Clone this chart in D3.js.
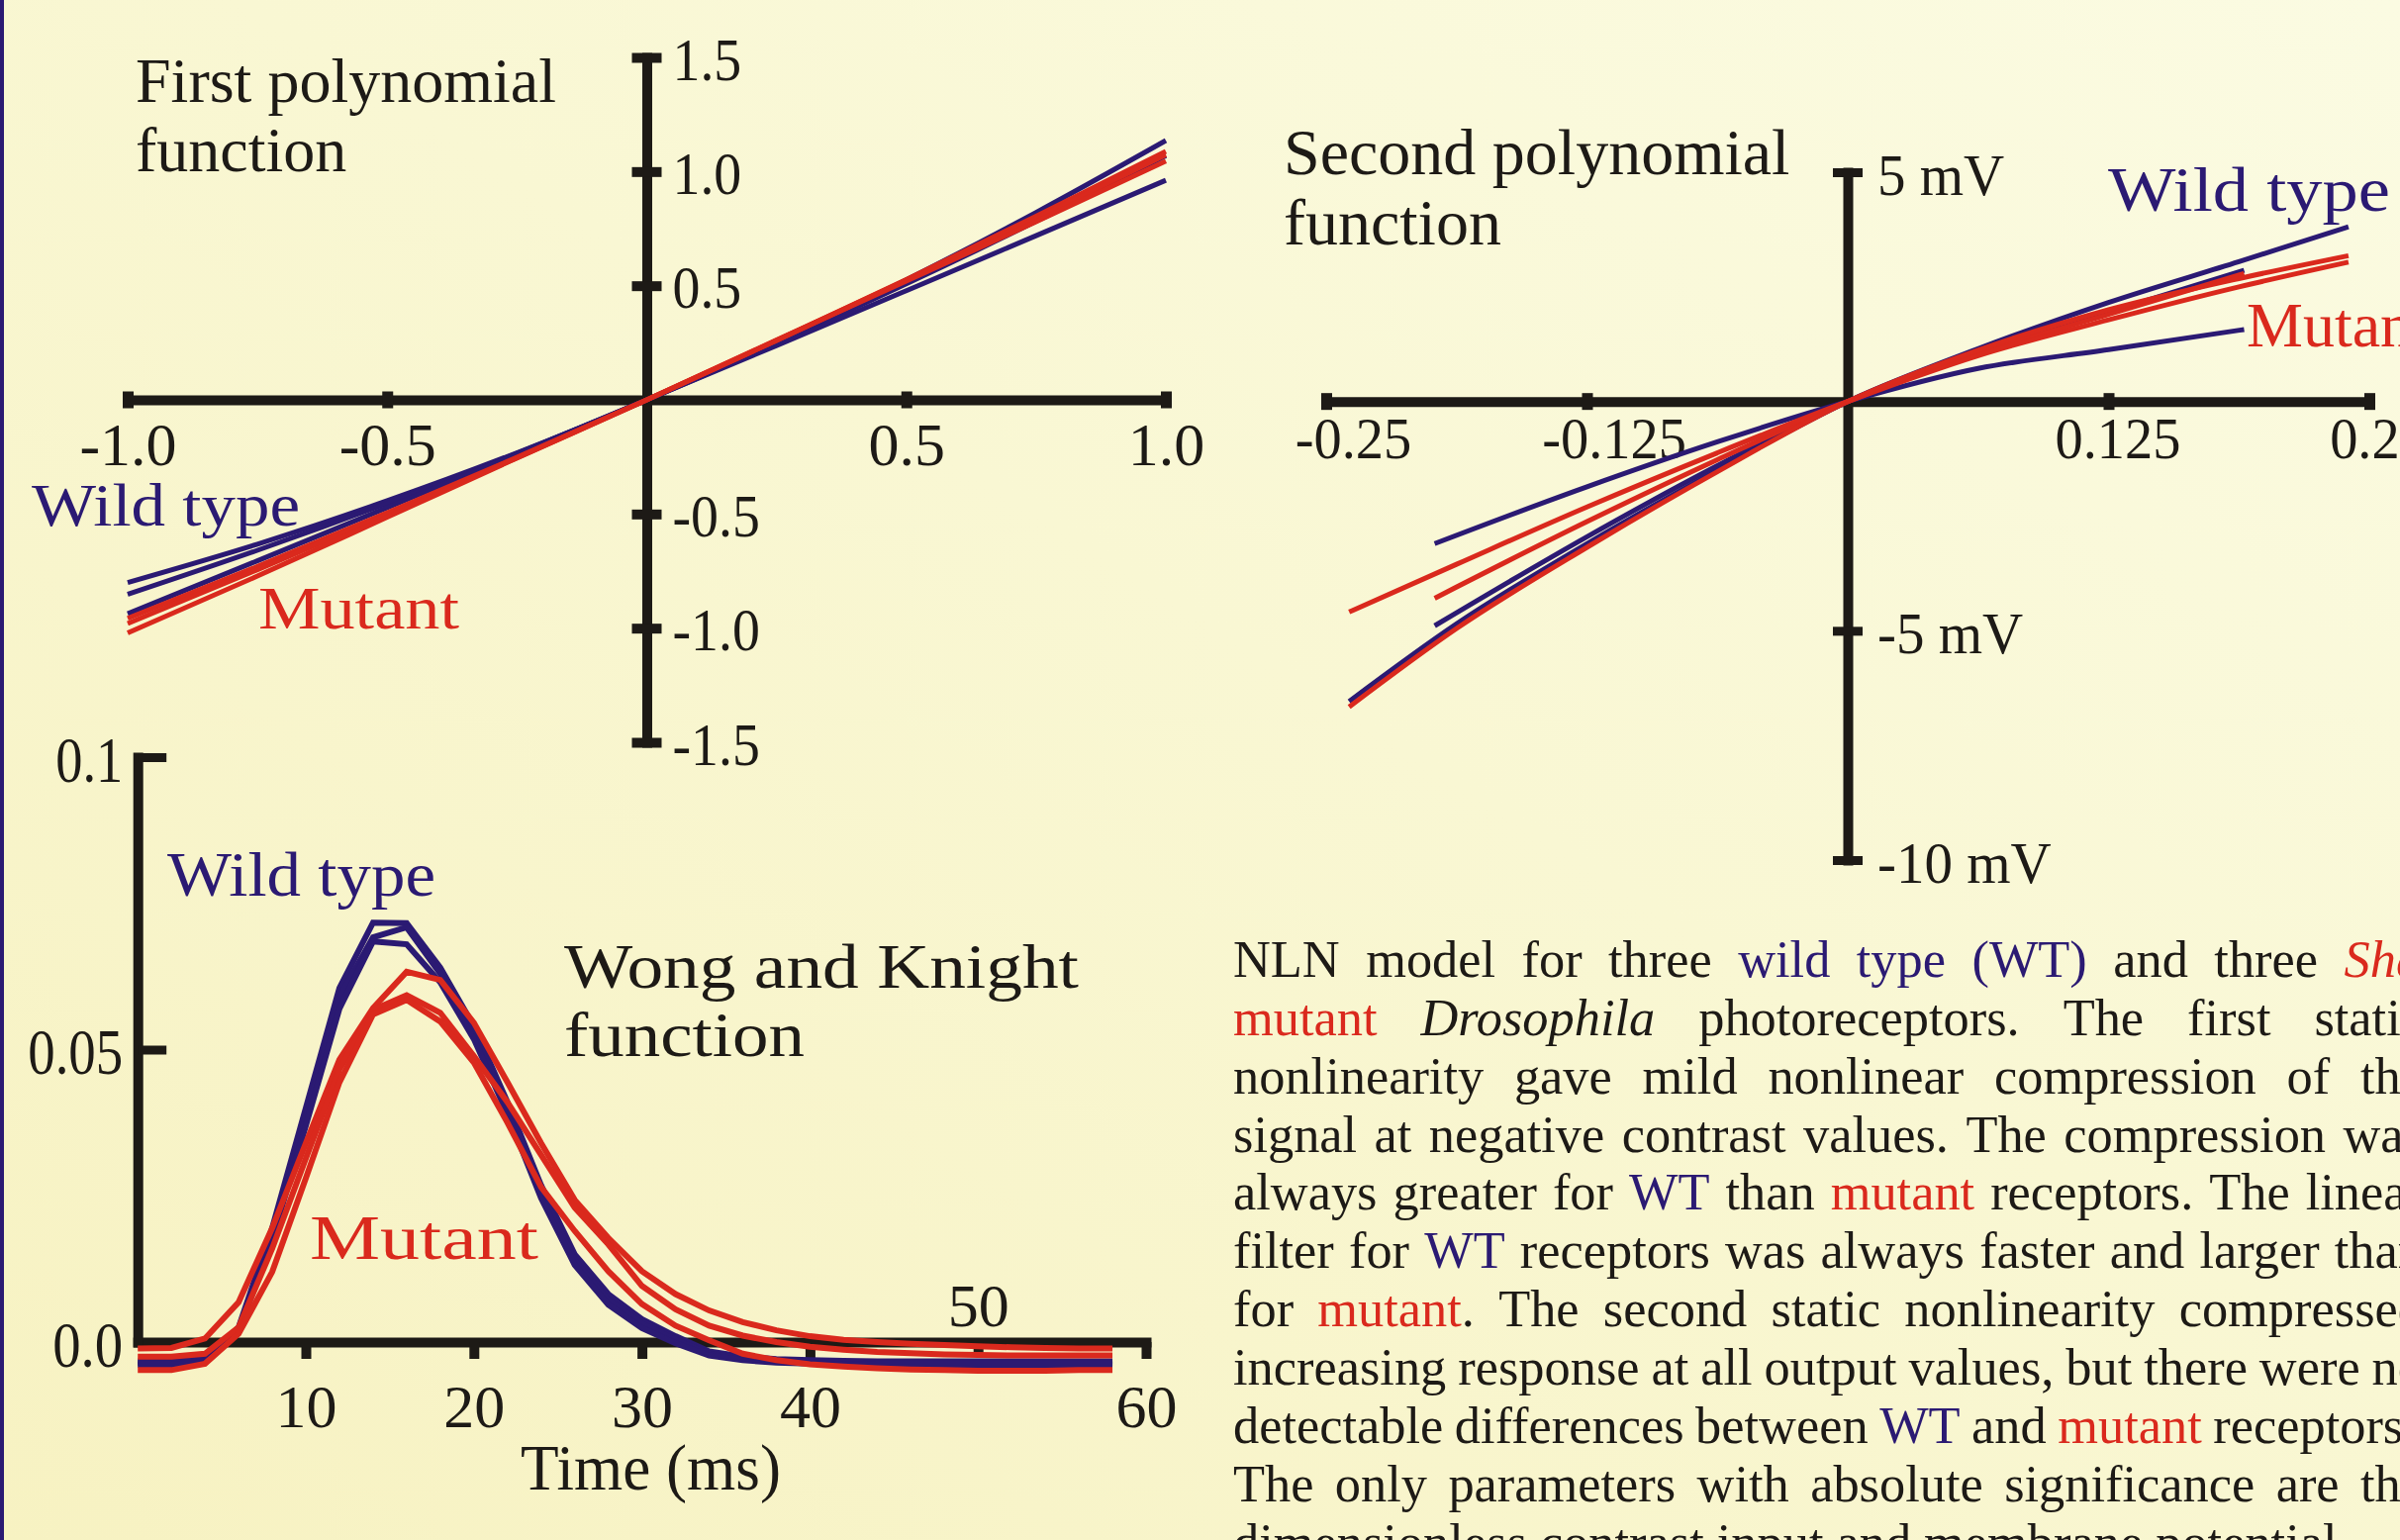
<!DOCTYPE html>
<html><head><meta charset="utf-8">
<script src="https://cdn.jsdelivr.net/npm/d3@7"></script>
<style>
html,body{margin:0;padding:0;overflow:hidden;background:#f9f7d2}
svg{display:block}
text{font-family:"Liberation Serif","Times New Roman",Times,serif}
</style></head><body>
<script>
// ---------------- DATA ----------------
// Panel 1: first polynomial (contrast -> normalised)
const p1X = [-1, -0.75, -0.5, -0.25, 0, 0.25, 0.5, 0.75, 1];
const p1WT1 = [-0.800, -0.632, -0.442, -0.232, 0, 0.253, 0.526, 0.821, 1.136];
const p1WT2 = [-0.852, -0.659, -0.453, -0.234, 0, 0.247, 0.508, 0.782, 1.070];
const p1WT3 = [-0.937, -0.705, -0.472, -0.237, 0, 0.238, 0.478, 0.719, 0.962];
const p1M1  = [-0.957, -0.730, -0.495, -0.252, 0, 0.260, 0.527, 0.804, 1.088];
const p1M2  = [-0.980, -0.744, -0.502, -0.254, 0, 0.260, 0.525, 0.796, 1.073];
const p1M3  = [-1.021, -0.772, -0.514, -0.255, 0, 0.262, 0.520, 0.780, 1.046];
const p1XTicks = [-1, -0.5, 0.5, 1];
const p1XTickLabels = ["-1.0", "-0.5", "0.5", "1.0"];
const p1YTicks = [1.5, 1, 0.5, -0.5, -1, -1.5];
const p1YTickLabels = ["1.5", "1.0", "0.5", "-0.5", "-1.0", "-1.5"];

// Panel 2: second polynomial (mV)
const p2XShort = [-0.198, -0.125, -0.0625, 0, 0.0625, 0.125, 0.19];
const p2XLong  = [-0.239, -0.1875, -0.125, -0.0625, 0, 0.0625, 0.125, 0.1875, 0.24];
const p2WT1 = [-3.10, -1.86, -0.88, 0, 0.72, 1.13, 1.57];
const p2WT2 = [-4.89, -2.95, -1.40, 0, 1.10, 1.95, 2.86];
const p2M1  = [-4.29, -2.62, -1.27, 0, 1.05, 1.90, 2.79];
const p2WT3 = [-6.54, -4.85, -3.10, -1.50, 0, 1.15, 2.16, 3.05, 3.81];
const p2M2  = [-4.59, -3.55, -2.30, -1.12, 0, 1.00, 1.78, 2.50, 3.04];
const p2M3  = [-6.66, -4.95, -3.18, -1.53, 0, 1.12, 2.00, 2.68, 3.18];
const p2XTicks = [-0.25, -0.125, 0.125, 0.25];
const p2XTickLabels = ["-0.25", "-0.125", "0.125", "0.25"];
const p2YTicks = [5, -5, -10];
const p2YTickLabels = ["5 mV", "-5 mV", "-10 mV"];

// Panel 3: Wong and Knight linear filter
const p3T = [0,2,4,6,8,10,12,14,16,18,20,22,24,26,28,30,32,34,36,38,40,42,44,46,48,50,52,54,56,58];
const p3WT1 = [-0.0033,-0.0033,-0.0028,0.0025,0.0195,0.0400,0.0605,0.0717,0.0716,0.0640,0.0540,0.0410,0.0268,0.0150,0.0082,0.0039,0.0010,-0.0016,-0.0025,-0.0029,-0.0031,-0.0032,-0.0033,-0.0033,-0.0033,-0.0033,-0.0033,-0.0033,-0.0033,-0.0033];
const p3WT2 = [-0.0036,-0.0036,-0.0031,0.0020,0.0185,0.0385,0.0590,0.0692,0.0709,0.0630,0.0530,0.0400,0.0258,0.0140,0.0072,0.0032,0.0004,-0.0020,-0.0028,-0.0032,-0.0034,-0.0035,-0.0036,-0.0036,-0.0036,-0.0036,-0.0036,-0.0036,-0.0036,-0.0036];
const p3WT3 = [-0.0039,-0.0039,-0.0033,0.0018,0.0175,0.0370,0.0570,0.0685,0.0680,0.0615,0.0518,0.0390,0.0246,0.0132,0.0064,0.0024,-0.0002,-0.0023,-0.0031,-0.0035,-0.0037,-0.0038,-0.0039,-0.0039,-0.0039,-0.0039,-0.0039,-0.0039,-0.0039,-0.0039];
const p3M1 = [-0.0011,-0.0010,0.0006,0.0068,0.0195,0.0340,0.0483,0.0571,0.0633,0.0619,0.0546,0.0444,0.0340,0.0243,0.0178,0.0121,0.0082,0.0054,0.0034,0.0020,0.0010,0.0004,0.0000,-0.0003,-0.0005,-0.0007,-0.0009,-0.0010,-0.0011,-0.0011];
const p3M2 = [-0.0025,-0.0025,-0.0020,0.0025,0.0160,0.0314,0.0466,0.0568,0.0593,0.0563,0.0489,0.0410,0.0320,0.0230,0.0167,0.0096,0.0056,0.0028,0.0011,0.0000,-0.0008,-0.0013,-0.0017,-0.0019,-0.0021,-0.0022,-0.0023,-0.0023,-0.0023,-0.0023];
const p3M3 = [-0.0048,-0.0048,-0.0037,0.0014,0.0120,0.0280,0.0444,0.0560,0.0585,0.0548,0.0478,0.0375,0.0265,0.0190,0.0121,0.0065,0.0028,0.0003,-0.0020,-0.0031,-0.0038,-0.0042,-0.0045,-0.0047,-0.0048,-0.0049,-0.0049,-0.0049,-0.0048,-0.0048];
const p3XTicks = [10, 20, 30, 40, 50, 60];
const p3XTickLabels = ["10", "20", "30", "40", "50", "60"];
const p3YTicks = [0, 0.05, 0.1];
const p3YTickLabels = ["0.0", "0.05", "0.1"];

// Caption text
const captionLines = [
  "NLN model for three {b:wild} {b:type} {b:(WT)} and three {ri:Shaker}",
  "{r:mutant} {i:Drosophila} photoreceptors. The first static",
  "nonlinearity gave mild nonlinear compression of the",
  "signal at negative contrast values. The compression was",
  "always greater for {b:WT} than {r:mutant} receptors. The linear",
  "filter for {b:WT} receptors was always faster and larger than",
  "for {r:mutant}. The second static nonlinearity compressed",
  "increasing response at all output values, but there were no",
  "detectable differences between {b:WT} and {r:mutant} receptors.",
  "The only parameters with absolute significance are the",
  "dimensionless contrast input and membrane potential."
];

// ---------------- DRAWING ----------------
const BLUE = "#2B1A73", RED = "#DA291D", INK = "#1D1A16";
const svg = d3.select("body").append("svg").attr("width", 2425).attr("height", 1556);

const defs = svg.append("defs");
const grad = defs.append("linearGradient").attr("id", "bg")
  .attr("x1", 0).attr("y1", 1).attr("x2", 1).attr("y2", 0);
grad.append("stop").attr("offset", 0).attr("stop-color", "#F7F2C2");
grad.append("stop").attr("offset", 0.55).attr("stop-color", "#F9F7D3");
grad.append("stop").attr("offset", 1).attr("stop-color", "#FBFBE2");
svg.append("rect").attr("width", 2425).attr("height", 1556).attr("fill", "url(#bg)");
svg.append("rect").attr("x", 0).attr("y", 0).attr("width", 4).attr("height", 1556).attr("fill", BLUE);

function label(g, x, y, str, o) {
  const t = g.append("text").attr("x", x).attr("y", y)
    .attr("font-size", o.size).attr("fill", o.fill || INK)
    .attr("text-anchor", o.anchor || "start").text(str);
  if (o.len) t.attr("textLength", o.len).attr("lengthAdjust", "spacingAndGlyphs");
  return t;
}
function styleAxis(sel, fs) {
  sel.attr("font-family", null).attr("font-size", fs);
  sel.select(".domain").attr("stroke", INK).attr("stroke-width", 10).attr("stroke-linecap", "square");
  sel.selectAll(".tick line").attr("stroke", INK);
  sel.selectAll(".tick text").attr("fill", INK).attr("dy", null);
}
function squeeze(sel, k) {
  sel.each(function () {
    const w = this.getComputedTextLength();
    d3.select(this).attr("textLength", w * k).attr("lengthAdjust", "spacingAndGlyphs");
  });
}
function drawSeries(g, xs, ys, X, Y, color, w, curve) {
  const line = d3.line().x((d, i) => xs(X[i])).y(d => ys(d)).curve(curve);
  g.append("path").attr("d", line(Y)).attr("fill", "none")
    .attr("stroke", color).attr("stroke-width", w)
    .attr("stroke-linejoin", "miter").attr("stroke-linecap", "butt");
}

// ---- Panel 1 ----
{
  const g = svg.append("g");
  const x = d3.scaleLinear().domain([-1, 1]).range([129, 1178]);
  const y = d3.scaleLinear().domain([-1.5, 1.5]).range([750, 58]);
  const ax = g.append("g").attr("transform", `translate(0,${y(0)})`)
    .call(d3.axisBottom(x).tickValues(p1XTicks).tickFormat((d, i) => p1XTickLabels[i]).tickSizeOuter(0));
  styleAxis(ax, 62);
  ax.select(".domain").attr("stroke-linecap", "butt");
  ax.selectAll(".tick line").attr("y1", -8.5).attr("y2", 8.5).attr("stroke-width", 11);
  ax.selectAll(".tick text").attr("y", 66);
  const ay = g.append("g").attr("transform", `translate(${x(0)},0)`)
    .call(d3.axisRight(y).tickValues(p1YTicks).tickFormat((d, i) => p1YTickLabels[i]).tickSizeOuter(0));
  styleAxis(ay, 62);
  ay.selectAll(".tick line").attr("x1", -15).attr("x2", 15).attr("stroke-width", 10);
  ay.selectAll(".tick text").attr("x", 26).attr("y", 22);
  squeeze(ay.selectAll(".tick text"), 0.9);

  [[p1WT1, BLUE], [p1WT2, BLUE], [p1WT3, BLUE], [p1M1, RED], [p1M2, RED], [p1M3, RED]]
    .forEach(([Y, c]) => drawSeries(g, x, y, p1X, Y, c, 5, d3.curveMonotoneX));

  label(g, 137, 103, "First polynomial", {size: 64});
  label(g, 137, 173, "function", {size: 64});
  label(g, 32, 531, "Wild type", {size: 62, fill: BLUE, len: 271});
  label(g, 261, 635, "Mutant", {size: 62, fill: RED, len: 203});
}

// ---- Panel 2 ----
{
  const g = svg.append("g");
  const x = d3.scaleLinear().domain([-0.25, 0.25]).range([1340, 2394]);
  const y = d3.scaleLinear().domain([-10, 5]).range([869, 174]);
  const ax = g.append("g").attr("transform", `translate(0,${y(0)})`)
    .call(d3.axisBottom(x).tickValues(p2XTicks).tickFormat((d, i) => p2XTickLabels[i]).tickSizeOuter(0));
  styleAxis(ax, 60);
  ax.select(".domain").attr("stroke-linecap", "butt");
  ax.selectAll(".tick line").attr("y1", -8.5).attr("y2", 8.5).attr("stroke-width", 11);
  ax.selectAll(".tick text").attr("y", 57).attr("x", d => d < 0 ? 27 : 9);
  squeeze(ax.selectAll(".tick text"), 0.94);
  const ay = g.append("g").attr("transform", `translate(${x(0)},0)`)
    .call(d3.axisRight(y).tickValues(p2YTicks).tickFormat((d, i) => p2YTickLabels[i]).tickSizeOuter(0));
  styleAxis(ay, 60);
  ay.selectAll(".tick line").attr("x1", -15).attr("x2", 15).attr("stroke-width", 9);
  ay.selectAll(".tick text").attr("x", 30).attr("y", 22);
  squeeze(ay.selectAll(".tick text"), 0.95);

  [[p2XShort, p2WT1, BLUE], [p2XShort, p2WT2, BLUE], [p2XLong, p2WT3, BLUE],
   [p2XShort, p2M1, RED], [p2XLong, p2M2, RED], [p2XLong, p2M3, RED]]
    .forEach(([X, Y, c]) => drawSeries(g, x, y, X, Y, c, 5, d3.curveMonotoneX));

  label(g, 1297, 176, "Second polynomial", {size: 66});
  label(g, 1297, 247, "function", {size: 66});
  label(g, 2130, 213, "Wild type", {size: 63, fill: BLUE, len: 285});
  label(g, 2270, 350, "Mutant", {size: 64, fill: RED});
}

// ---- Panel 3 ----
{
  const g = svg.append("g");
  const x = d3.scaleLinear().domain([0, 60]).range([139.2, 1158]);
  const y = d3.scaleLinear().domain([0, 0.1]).range([1356, 765]);
  const ax = g.append("g").attr("transform", `translate(0,${y(0)})`)
    .call(d3.axisBottom(x).tickValues(p3XTicks).tickFormat((d, i) => p3XTickLabels[i]).tickSizeOuter(0));
  styleAxis(ax, 62);
  ax.selectAll(".tick line").attr("y1", 0).attr("y2", d => d === 50 ? 12 : 17).attr("stroke-width", 10);
  ax.selectAll(".tick text").attr("y", d => d === 50 ? -16 : 86);
  const ay = g.append("g").attr("transform", `translate(${x(0)},0)`)
    .call(d3.axisLeft(y).tickValues(p3YTicks).tickFormat((d, i) => p3YTickLabels[i]).tickSizeOuter(0));
  styleAxis(ay, 66);
  ay.selectAll(".tick line").attr("x1", 0).attr("x2", d => d === 0 ? 0 : 29).attr("stroke-width", 9);
  const yLabLen = {"0.0": 71, "0.05": 96, "0.1": 68};
  ay.selectAll(".tick text").attr("x", -15).attr("y", 24)
    .attr("textLength", (d, i) => yLabLen[p3YTickLabels[i]]).attr("lengthAdjust", "spacingAndGlyphs");

  [[p3WT1, BLUE], [p3WT2, BLUE], [p3WT3, BLUE], [p3M1, RED], [p3M2, RED], [p3M3, RED]]
    .forEach(([Y, c]) => drawSeries(g, x, y, p3T, Y, c, 6, d3.curveLinear));

  label(g, 570, 998, "Wong and Knight", {size: 64, len: 520});
  label(g, 570, 1067, "function", {size: 64, len: 243});
  label(g, 169, 905, "Wild type", {size: 64, fill: BLUE, len: 271});
  label(g, 313, 1272, "Mutant", {size: 64, fill: RED, len: 231});
  label(g, 526, 1505, "Time (ms)", {size: 66, len: 263});
}

// ---- Caption paragraph ----
{
  const g = svg.append("g");
  const FS = 52.4, X0 = 1246, Y0 = 987, LH = 58.85, WIDTH = 1203;
  const colorOf = {b: BLUE, r: RED, ri: RED, i: INK};
  captionLines.forEach((str, li) => {
    const by = Y0 + li * LH;
    const words = str.split(" ").map(tok => {
      const t = g.append("text").attr("y", by).attr("font-size", FS).attr("fill", INK);
      const re = /\{(\w+):([^}]*)\}|([^{]+)/g;
      let m;
      while ((m = re.exec(tok)) !== null) {
        const sp = t.append("tspan");
        if (m[1]) {
          sp.text(m[2]).attr("fill", colorOf[m[1]]);
          if (m[1].includes("i")) sp.attr("font-style", "italic");
        } else sp.text(m[3]);
      }
      return {t, w: t.node().getComputedTextLength()};
    });
    const total = d3.sum(words, d => d.w);
    let gap;
    if (li === 8) gap = 11.5;
    else if (li === captionLines.length - 1) gap = 13;
    else if (li === 0) gap = (1268 - total) / (words.length - 1);
    else gap = (WIDTH - total) / (words.length - 1);
    let cx = X0;
    words.forEach(d => { d.t.attr("x", cx); cx += d.w + gap; });
  });
}
</script>
</body></html>
